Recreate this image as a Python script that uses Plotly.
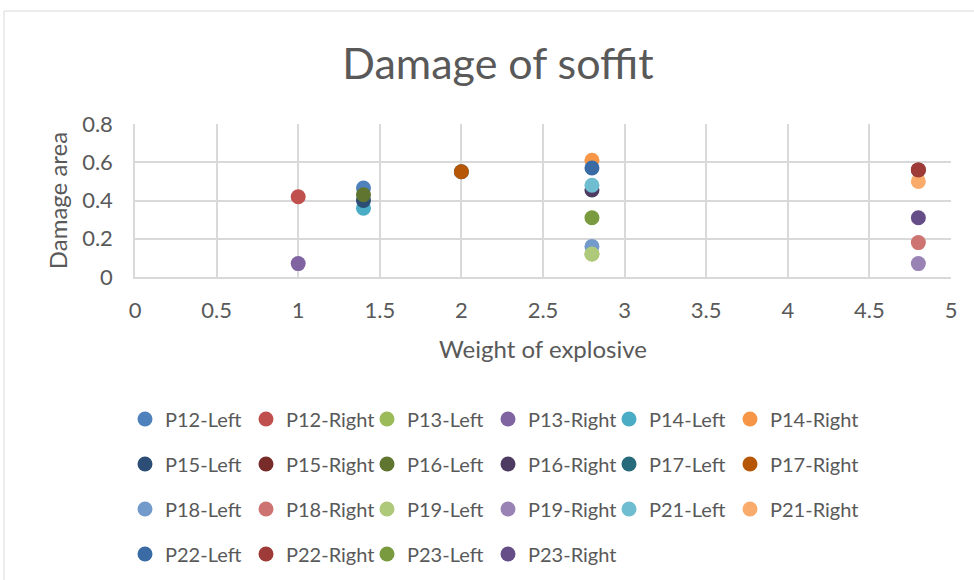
import plotly.graph_objects as go

series_names = ["P12-Left", "P12-Right", "P13-Left", "P13-Right", "P14-Left", "P14-Right",
                "P15-Left", "P15-Right", "P16-Left", "P16-Right", "P17-Left", "P17-Right",
                "P18-Left", "P18-Right", "P19-Left", "P19-Right", "P21-Left", "P21-Right",
                "P22-Left", "P22-Right", "P23-Left", "P23-Right"]
weights = [1.4, 1.0, 2.8, 1.0, 1.4, 2.8,
           1.4, 4.8, 1.4, 2.8, 2.0, 2.0,
           2.8, 4.8, 2.8, 4.8, 2.8, 4.8,
           2.8, 4.8, 2.8, 4.8]
damage = [0.465, 0.42, 0.12, 0.07, 0.36, 0.61,
          0.40, 0.56, 0.43, 0.455, 0.55, 0.55,
          0.16, 0.18, 0.12, 0.07, 0.48, 0.50,
          0.57, 0.56, 0.31, 0.31]
colors = ["#4F81BD", "#C0504D", "#9BBB59", "#8064A2", "#4BACC6", "#F79646",
          "#2C4D75", "#772C2A", "#5F7530", "#4D3B62", "#276A7C", "#B65708",
          "#729ACA", "#CD7371", "#AFC97A", "#9983B5", "#6FBDD1", "#F9AB6B",
          "#3A6BA4", "#9E3A38", "#7A9A3F", "#654E87"]
x_tick_vals = [0, 0.5, 1, 1.5, 2, 2.5, 3, 3.5, 4, 4.5, 5]
x_tick_text = ["0", "0.5", "1", "1.5", "2", "2.5", "3", "3.5", "4", "4.5", "5"]
y_tick_vals = [0, 0.2, 0.4, 0.6, 0.8]
y_tick_text = ["0", "0.2", "0.4", "0.6", "0.8"]

# figure is a little taller than the 580px window so the legend block never
# forces Plotly to shrink the plot area; the page overflow is hidden.
W, H = 974, 600
L, R, T, B = 135, 23, 124, 323
pw, ph = W - L - R, H - T - B
FONT = "Lato, 'Open Sans', sans-serif"
TXT = "#595959"

def px_x(px):
    return (px - L) / pw

def px_y(py):
    return (H - B - py) / ph

N_COLS = 6
col_marker_x = [149, 270, 391, 512, 633, 754]
legend_names = ["legend"] + ["legend%d" % (c + 1) for c in range(1, N_COLS)]

fig = go.Figure()
for i, name in enumerate(series_names):
    fig.add_trace(go.Scatter(
        x=[weights[i]], y=[damage[i]], mode="markers", name=name,
        marker=dict(size=15, color=colors[i], line=dict(width=0)),
        legend=legend_names[i % N_COLS], legendgroup=name, showlegend=True,
    ))

legend_cfg = {}
for c, ln in enumerate(legend_names):
    legend_cfg[ln] = dict(
        orientation="v", x=px_x(col_marker_x[c] - 24), xanchor="left",
        y=px_y(399.5), yanchor="top", itemwidth=30, tracegroupgap=16,
        font=dict(family=FONT, size=20, color=TXT), bgcolor="rgba(0,0,0,0)",
        itemclick=False, itemdoubleclick=False,
    )

fig.update_layout(
    width=W, height=H,
    margin=dict(l=L, r=R, t=T, b=B),
    paper_bgcolor="white", plot_bgcolor="white",
    title=dict(text="Damage of soffit", x=498 / W, xref="container", xanchor="center",
               y=(H - 64) / H, yanchor="middle",
               font=dict(family=FONT, size=43, color=TXT)),
    xaxis=dict(range=[0, 5], tickvals=x_tick_vals, ticktext=x_tick_text,
               showgrid=True, gridcolor="#D9D9D9", gridwidth=1.5,
               zeroline=False, showline=True, linecolor="#D9D9D9", linewidth=1.5,
               ticks="", ticklabelstandoff=13,
               tickfont=dict(family=FONT, size=22, color=TXT),
               title=dict(text="Weight of explosive", standoff=19,
                          font=dict(family=FONT, size=24, color=TXT))),
    yaxis=dict(range=[0, 0.8], tickvals=y_tick_vals, ticktext=y_tick_text,
               showgrid=True, gridcolor="#D9D9D9", gridwidth=1.5,
               zeroline=False, showline=True, linecolor="#D9D9D9", linewidth=1.5,
               ticks="", ticklabelstandoff=16,
               tickfont=dict(family=FONT, size=22, color=TXT),
               title=dict(text="Damage area", standoff=8,
                          font=dict(family=FONT, size=24, color=TXT))),
    shapes=[dict(type="rect", xref="paper", yref="paper",
                 x0=px_x(4), x1=px_x(W + 60), y0=px_y(H + 60), y1=px_y(11),
                 line=dict(color="#D9D9D9", width=1), fillcolor="rgba(0,0,0,0)",
                 layer="below")],
    **legend_cfg,
)

fig.write_html("out.html", config={"displayModeBar": False},
               post_script="document.body.style.margin='0';"
                           "document.documentElement.style.overflow='hidden';"
                           "document.body.style.overflow='hidden';")
